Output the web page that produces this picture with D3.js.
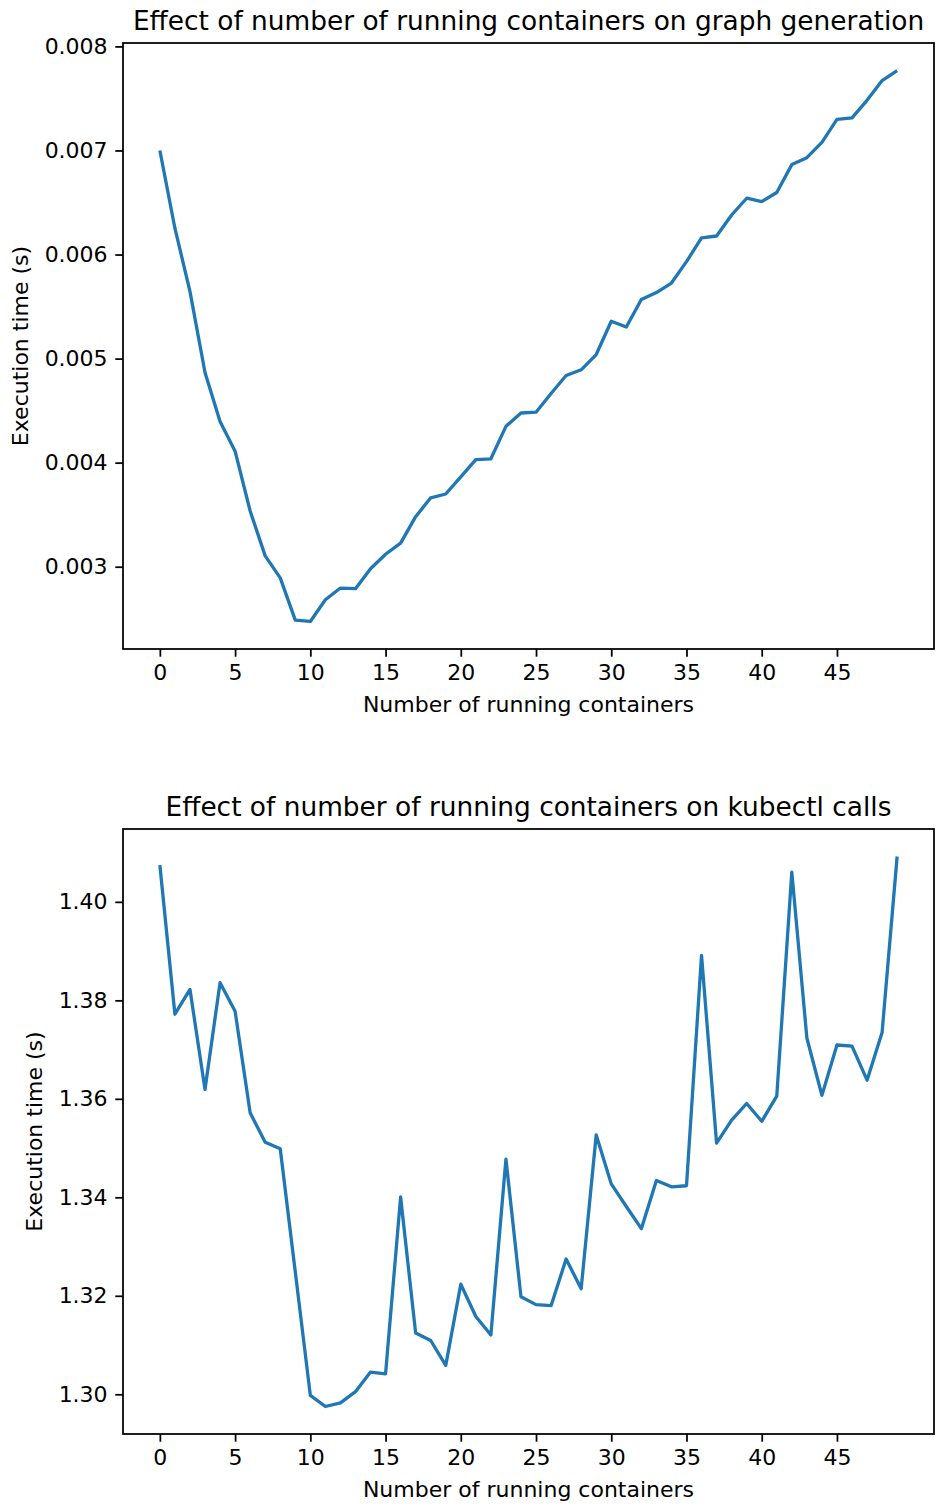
<!DOCTYPE html>
<html>
<head>
    <meta charset="utf-8">
    <style>
        html, body { padding: 0; margin: 0; background: #fff; }
        #chart { width: 941px; height: 1508px; }
        text { font-family: "DejaVu Sans", sans-serif; fill: #000; }
    </style>
</head>
<body>
    <div id="chart"></div>
    <script src="https://cdn.jsdelivr.net/npm/d3@7"></script>
    <script>
        // Number of running containers (x for both panels)
        const containers = d3.range(0, 50);
        const xTicks = [0, 5, 10, 15, 20, 25, 30, 35, 40, 45];

        // Top panel: graph generation time (s)
        const graphTimes = [
            0.00700, 0.006253, 0.005646, 0.004867, 0.004396, 0.004110, 0.003536, 0.003104, 0.002893, 0.002487,
            0.002474, 0.002682, 0.002795, 0.002789, 0.002981, 0.003120, 0.003227, 0.003481, 0.003662, 0.003699,
            0.003864, 0.004029, 0.004037, 0.004349, 0.004477, 0.004485, 0.004665, 0.004837, 0.004892, 0.005039,
            0.005359, 0.005304, 0.005568, 0.005634, 0.005726, 0.005932, 0.006159, 0.006178, 0.006380, 0.006541,
            0.006508, 0.006596, 0.006864, 0.006931, 0.007078, 0.007298, 0.007313, 0.007482, 0.007672, 0.007768
        ];
        const graphTicks = [0.003, 0.004, 0.005, 0.006, 0.007, 0.008];

        // Bottom panel: kubectl call time (s)
        const kubectlTimes = [
            1.40745, 1.37718, 1.38223, 1.36190, 1.38358, 1.37779, 1.35715, 1.35120, 1.34985, 1.32485,
            1.29978, 1.29752, 1.29827, 1.30053, 1.30452, 1.30414, 1.34006, 1.31243, 1.31092, 1.30588,
            1.32235, 1.31581, 1.31205, 1.34777, 1.31979, 1.31821, 1.31799, 1.32746, 1.32145, 1.35266,
            1.34273, 1.33814, 1.33363, 1.34341, 1.34213, 1.34235, 1.38913, 1.35100, 1.35566, 1.35905,
            1.35544, 1.36055, 1.40605, 1.37236, 1.36070, 1.37093, 1.37070, 1.36379, 1.37349, 1.40921
        ];
        const kubectlTicks = [1.30, 1.32, 1.34, 1.36, 1.38, 1.40];

        const width = 941;
        const height = 1508;
        const pt = 2.2;          // px per point
        const left = 123, right = 934;

        const svg = d3.select('#chart').append('svg')
            .attr('width', width)
            .attr('height', height);

        svg.append('rect').attr('width', width).attr('height', height).attr('fill', '#fff');

        // matplotlib-like 5% margins
        function padded(ext) {
            const p = (ext[1] - ext[0]) * 0.05;
            return [ext[0] - p, ext[1] + p];
        }

        function panel(opts) {
            const { top, bottom, values, yTicks, yFmt, title } = opts;

            const x = d3.scaleLinear()
                .domain(padded(d3.extent(containers)))
                .range([left, right]);
            const y = d3.scaleLinear()
                .domain(padded(d3.extent(values)))
                .range([bottom, top]);

            const g = svg.append('g');

            // line
            g.append('path')
                .datum(containers.map((c, i) => [c, values[i]]))
                .attr('fill', 'none')
                .attr('stroke', '#1f77b4')
                .attr('stroke-width', 1.5 * pt)
                .attr('stroke-linejoin', 'round')
                .attr('stroke-linecap', 'butt')
                .attr('d', d3.line().x(d => x(d[0])).y(d => y(d[1])));

            // x axis
            const xAxis = g.append('g')
                .attr('transform', `translate(0,${bottom})`)
                .call(d3.axisBottom(x).tickValues(xTicks).tickSize(3.5 * pt).tickPadding(3.5 * pt).tickSizeOuter(0));
            xAxis.select('.domain').remove();
            xAxis.selectAll('.tick line').attr('stroke', '#000').attr('stroke-width', 0.8 * pt);
            xAxis.selectAll('.tick text').style('font-size', '22px').attr('fill', '#000');
            xAxis.attr('font-family', null).attr('font-size', null);

            // y axis
            const yAxis = g.append('g')
                .attr('transform', `translate(${left},0)`)
                .call(d3.axisLeft(y).tickValues(yTicks).tickFormat(yFmt).tickSize(3.5 * pt).tickPadding(3.5 * pt).tickSizeOuter(0));
            yAxis.select('.domain').remove();
            yAxis.selectAll('.tick line').attr('stroke', '#000').attr('stroke-width', 0.8 * pt);
            yAxis.selectAll('.tick text').style('font-size', '22px').attr('fill', '#000');
            yAxis.attr('font-family', null).attr('font-size', null);

            // spines
            g.append('rect')
                .attr('x', left).attr('y', top)
                .attr('width', right - left).attr('height', bottom - top)
                .attr('fill', 'none')
                .attr('stroke', '#000')
                .attr('stroke-width', 0.8 * pt);

            // title
            g.append('text')
                .attr('x', (left + right) / 2)
                .attr('y', top - 13)
                .attr('text-anchor', 'middle')
                .style('font-size', '26.4px')
                .text(title);

            // x label
            g.append('text')
                .attr('x', (left + right) / 2)
                .attr('y', bottom + 63)
                .attr('text-anchor', 'middle')
                .style('font-size', '22px')
                .text('Number of running containers');

            // y label, placed left of the widest tick label
            let minLeft = 0;
            yAxis.selectAll('.tick text').each(function () {
                minLeft = Math.min(minLeft, this.getBBox().x);
            });
            const lx = left + minLeft - 17;
            g.append('text')
                .attr('transform', `translate(${lx},${(top + bottom) / 2}) rotate(-90)`)
                .attr('text-anchor', 'middle')
                .style('font-size', '22px')
                .text('Execution time (s)');
        }

        panel({
            top: 43, bottom: 649,
            values: graphTimes,
            yTicks: graphTicks,
            yFmt: d3.format('.3f'),
            title: 'Effect of number of running containers on graph generation'
        });

        panel({
            top: 829, bottom: 1434,
            values: kubectlTimes,
            yTicks: kubectlTicks,
            yFmt: d3.format('.2f'),
            title: 'Effect of number of running containers on kubectl calls'
        });
    </script>
</body>
</html>
